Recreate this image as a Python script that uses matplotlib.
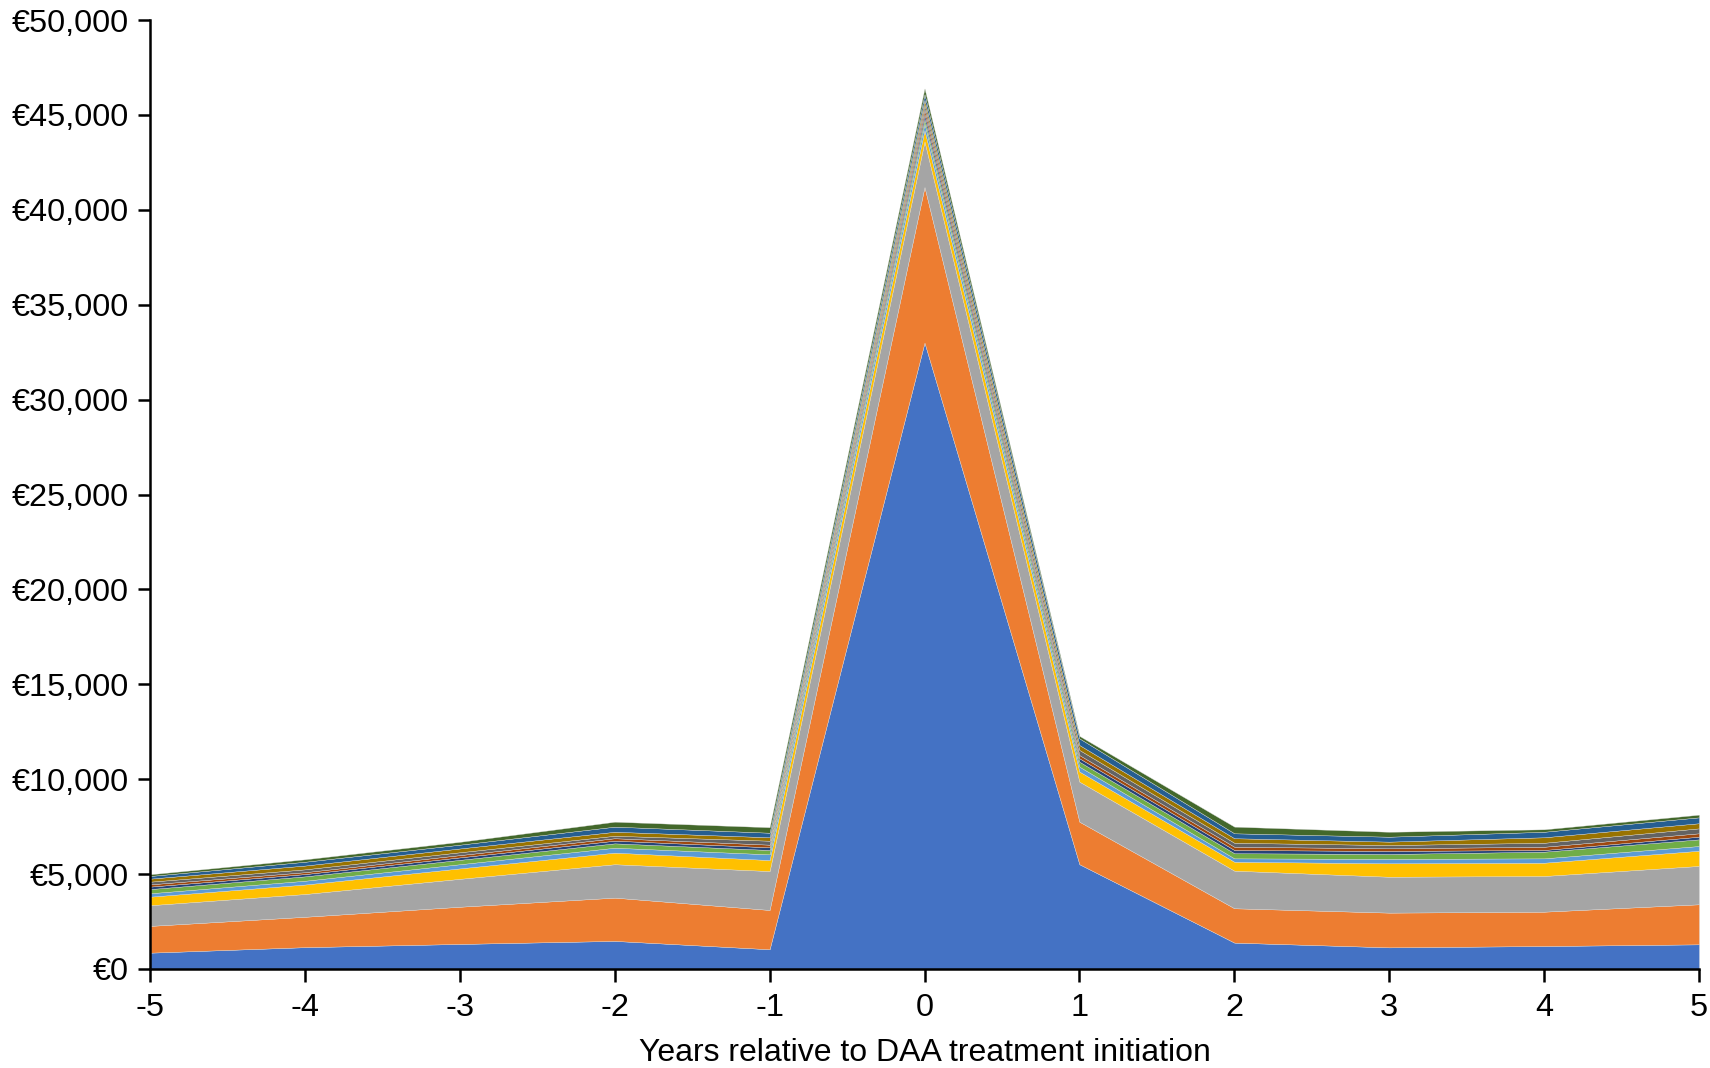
import matplotlib
matplotlib.use('Agg')
import matplotlib.pyplot as plt
from matplotlib.ticker import FuncFormatter
import numpy as np

# Годы относительно начала терапии DAA
years = [-5, -4, -3, -2, -1, 0, 1, 2, 3, 4, 5]

# Верхние границы каждого слоя (накопленные значения, в тыс. евро), снизу вверх
tops_blue = [0.86, 1.15, 1.32, 1.48, 1.04, 33.0, 5.52, 1.39, 1.14, 1.21, 1.30]
tops_orange = [2.27, 2.75, 3.28, 3.76, 3.11, 41.2, 7.76, 3.20, 2.97, 3.02, 3.41]
tops_gray = [3.36, 3.95, 4.75, 5.52, 5.16, 43.6, 9.87, 5.18, 4.86, 4.90, 5.43]
tops_yellow = [3.81, 4.45, 5.30, 6.13, 5.74, 44.2, 10.40, 5.65, 5.57, 5.60, 6.23]
tops_lightblue = [3.99, 4.65, 5.52, 6.39, 6.04, 44.55, 10.66, 5.83, 5.80, 5.83, 6.48]
tops_green = [4.21, 4.88, 5.75, 6.62, 6.27, 44.8, 10.92, 6.10, 6.06, 6.18, 6.83]
tops_navy = [4.34, 5.00, 5.88, 6.76, 6.41, 45.05, 11.10, 6.27, 6.22, 6.27, 6.97]
tops_brown = [4.46, 5.10, 6.00, 6.89, 6.55, 45.3, 11.27, 6.44, 6.36, 6.44, 7.15]
tops_darkgray = [4.60, 5.25, 6.15, 7.02, 6.76, 45.55, 11.54, 6.65, 6.53, 6.65, 7.41]
tops_gold = [4.76, 5.45, 6.35, 7.23, 6.94, 45.8, 11.80, 6.89, 6.71, 6.94, 7.68]
tops_darkblue = [4.90, 5.65, 6.55, 7.50, 7.18, 46.1, 12.15, 7.15, 6.97, 7.23, 7.99]
tops_darkgreen = [4.99, 5.78, 6.70, 7.76, 7.47, 46.4, 12.28, 7.50, 7.23, 7.36, 8.13]

layer_tops = [tops_blue, tops_orange, tops_gray, tops_yellow, tops_lightblue, tops_green,
              tops_navy, tops_brown, tops_darkgray, tops_gold, tops_darkblue, tops_darkgreen]
colors = ['#4472C4', '#ED7D31', '#A5A5A5', '#FFC000', '#5B9BD5', '#70AD47',
          '#264478', '#9E480E', '#636363', '#997300', '#255E91', '#43682B']

# Переводим накопленные значения в значения отдельных слоёв
tops = np.array(layer_tops) * 1000
values = np.diff(np.vstack([np.zeros(len(years)), tops]), axis=0)

plt.rcParams['font.family'] = ['Liberation Sans', 'DejaVu Sans']
plt.rcParams['axes.unicode_minus'] = False

fig = plt.figure(figsize=(17.1, 10.68), dpi=100)
ax = fig.add_axes([150 / 1710, 1 - 969 / 1068, 1549 / 1710, 949 / 1068])

ax.stackplot(years, values, colors=colors, edgecolor='#dcdcdc', linewidth=0.25)

ax.set_xlim(-5, 5)
ax.set_ylim(0, 50000)
ax.set_xticks(years)
ax.set_yticks(np.arange(0, 50001, 5000))
ax.yaxis.set_major_formatter(FuncFormatter(lambda v, p: '€{:,.0f}'.format(v)))

for s in ['top', 'right']:
    ax.spines[s].set_visible(False)
for s in ['left', 'bottom']:
    ax.spines[s].set_linewidth(1.8)
    ax.spines[s].set_color('black')

ax.tick_params(axis='both', direction='out', length=9, width=1.8, colors='black')
ax.tick_params(axis='y', labelsize=23.4, pad=6)
ax.tick_params(axis='x', labelsize=23.4, pad=8)

ax.set_xlabel('Years relative to DAA treatment initiation', fontsize=23, labelpad=11)

fig.savefig('out.png', dpi=100)
